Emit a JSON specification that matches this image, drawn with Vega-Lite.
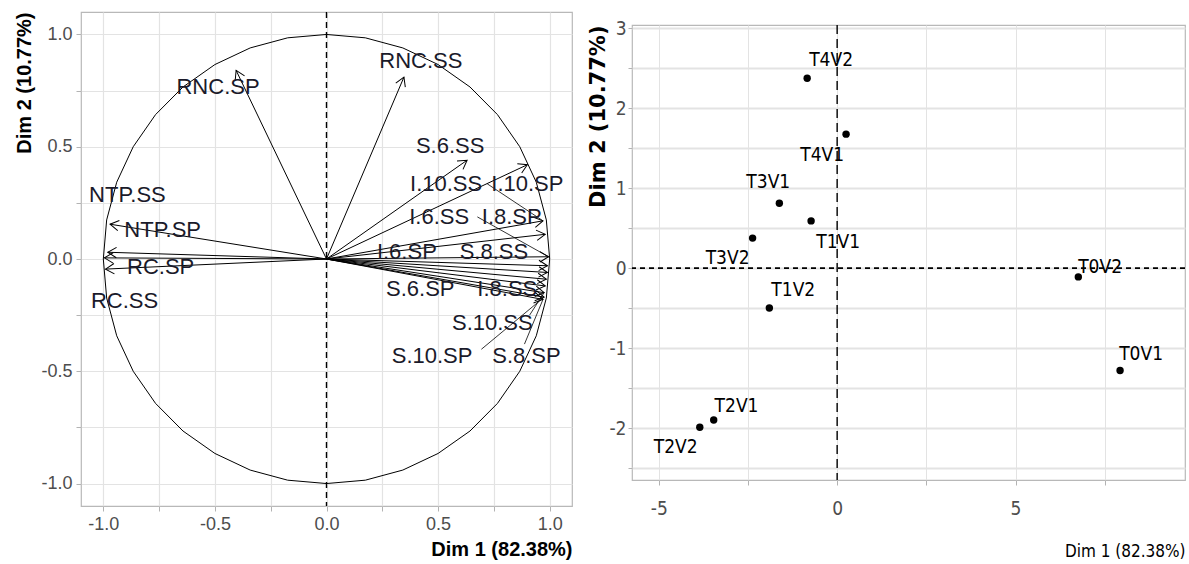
{
  "$schema": "https://vega.github.io/schema/vega-lite/v6.json",
  "background": "white",
  "padding": {"left": 14, "top": 6, "right": 0, "bottom": 0},
  "spacing": 14,
  "config": {
    "view": {"stroke": "#b8b8b8", "strokeWidth": 1.2},
    "axis": {"domain": false, "gridColor": "#e3e3e3", "gridWidth": 1.2, "tickColor": "#b3b3b3", "tickSize": 5, "labelColor": "#4d4d4d", "labelFont": "Liberation Sans", "titleFont": "Liberation Sans", "titleColor": "black", "labelOverlap": false}
  },
  "datasets": {
    "circle": [
      {"i": 0, "cx": 1, "cy": 0}, {"i": 1, "cx": 0.985, "cy": 0.174}, {"i": 2, "cx": 0.94, "cy": 0.342}, {"i": 3, "cx": 0.866, "cy": 0.5},
      {"i": 4, "cx": 0.766, "cy": 0.643}, {"i": 5, "cx": 0.643, "cy": 0.766}, {"i": 6, "cx": 0.5, "cy": 0.866}, {"i": 7, "cx": 0.342, "cy": 0.94},
      {"i": 8, "cx": 0.174, "cy": 0.985}, {"i": 9, "cx": 0, "cy": 1}, {"i": 10, "cx": -0.174, "cy": 0.985}, {"i": 11, "cx": -0.342, "cy": 0.94},
      {"i": 12, "cx": -0.5, "cy": 0.866}, {"i": 13, "cx": -0.643, "cy": 0.766}, {"i": 14, "cx": -0.766, "cy": 0.643}, {"i": 15, "cx": -0.866, "cy": 0.5},
      {"i": 16, "cx": -0.94, "cy": 0.342}, {"i": 17, "cx": -0.985, "cy": 0.174}, {"i": 18, "cx": -1, "cy": 0}, {"i": 19, "cx": -0.985, "cy": -0.174},
      {"i": 20, "cx": -0.94, "cy": -0.342}, {"i": 21, "cx": -0.866, "cy": -0.5}, {"i": 22, "cx": -0.766, "cy": -0.643}, {"i": 23, "cx": -0.643, "cy": -0.766},
      {"i": 24, "cx": -0.5, "cy": -0.866}, {"i": 25, "cx": -0.342, "cy": -0.94}, {"i": 26, "cx": -0.174, "cy": -0.985}, {"i": 27, "cx": 0, "cy": -1},
      {"i": 28, "cx": 0.174, "cy": -0.985}, {"i": 29, "cx": 0.342, "cy": -0.94}, {"i": 30, "cx": 0.5, "cy": -0.866}, {"i": 31, "cx": 0.643, "cy": -0.766},
      {"i": 32, "cx": 0.766, "cy": -0.643}, {"i": 33, "cx": 0.866, "cy": -0.5}, {"i": 34, "cx": 0.94, "cy": -0.342}, {"i": 35, "cx": 0.985, "cy": -0.174},
      {"i": 36, "cx": 1, "cy": 0}
    ],
    "vars": [
      {"name": "RNC.SP", "x": -0.405, "y": 0.84, "lx": -0.486, "ly": 0.768},
      {"name": "RNC.SS", "x": 0.347, "y": 0.81, "lx": 0.423, "ly": 0.88},
      {"name": "S.6.SS", "x": 0.63, "y": 0.44, "lx": 0.554, "ly": 0.505},
      {"name": "I.10.SS", "x": 0.97, "y": 0.17, "lx": 0.536, "ly": 0.335, "sx": 0.72, "sy": 0.335},
      {"name": "I.10.SP", "x": 0.9, "y": 0.42, "lx": 0.9, "ly": 0.335},
      {"name": "I.6.SS", "x": 0.995, "y": 0.01, "lx": 0.505, "ly": 0.1875, "sx": 0.676, "sy": 0.1875},
      {"name": "I.8.SP", "x": 0.98, "y": 0.11, "lx": 0.83, "ly": 0.1875},
      {"name": "I.6.SP", "x": 0.99, "y": -0.03, "lx": 0.36, "ly": 0.031},
      {"name": "S.8.SS", "x": 0.99, "y": -0.06, "lx": 0.75, "ly": 0.031},
      {"name": "S.6.SP", "x": 0.985, "y": -0.09, "lx": 0.42, "ly": -0.134},
      {"name": "I.8.SS", "x": 0.98, "y": -0.12, "lx": 0.81, "ly": -0.134},
      {"name": "S.10.SS", "x": 0.975, "y": -0.15, "lx": 0.743, "ly": -0.286, "sx": 0.91, "sy": -0.25},
      {"name": "S.10.SP", "x": 0.975, "y": -0.17, "lx": 0.473, "ly": -0.433, "sx": 0.694, "sy": -0.402},
      {"name": "S.8.SP", "x": 0.97, "y": -0.18, "lx": 0.896, "ly": -0.433, "sx": 0.887, "sy": -0.379},
      {"name": "NTP.SS", "x": -0.97, "y": 0.155, "lx": -0.892, "ly": 0.286},
      {"name": "NTP.SP", "x": -0.98, "y": 0.03, "lx": -0.734, "ly": 0.13},
      {"name": "RC.SP", "x": -0.995, "y": 0.005, "lx": -0.743, "ly": -0.036},
      {"name": "RC.SS", "x": -0.99, "y": -0.045, "lx": -0.905, "ly": -0.1875}
    ],
    "inds": [
      {"name": "T4V2", "x": -0.84, "y": 2.375, "lx": -0.17, "ly": 2.6},
      {"name": "T4V1", "x": 0.25, "y": 1.675, "lx": -0.42, "ly": 1.41},
      {"name": "T3V1", "x": -1.62, "y": 0.81, "lx": -1.93, "ly": 1.075},
      {"name": "T1V1", "x": -0.73, "y": 0.59, "lx": 0.03, "ly": 0.325},
      {"name": "T3V2", "x": -2.37, "y": 0.375, "lx": -3.07, "ly": 0.125},
      {"name": "T1V2", "x": -1.9, "y": -0.5, "lx": -1.23, "ly": -0.275},
      {"name": "T0V2", "x": 6.76, "y": -0.11, "lx": 7.37, "ly": 0.0125},
      {"name": "T0V1", "x": 7.93, "y": -1.28, "lx": 8.52, "ly": -1.075},
      {"name": "T2V1", "x": -3.46, "y": -1.9, "lx": -2.82, "ly": -1.725},
      {"name": "T2V2", "x": -3.85, "y": -1.99, "lx": -4.525, "ly": -2.24}
    ]
  },
  "hconcat": [
    {
      "width": 491,
      "height": 494,
      "layer": [
        {
          "data": {"name": "circle"},
          "mark": {"type": "line", "color": "black", "strokeWidth": 1},
          "encoding": {
            "x": {"field": "cx", "type": "quantitative", "scale": {"domain": [-1.1, 1.1], "nice": false, "zero": false},
              "axis": {"values": [-1, -0.75, -0.5, -0.25, 0, 0.25, 0.5, 0.75, 1], "labelExpr": "datum.value % 0.5 === 0 ? replace(format(datum.value, '.1f'), '\u2212', '-') : ''", "labelFontSize": 18, "labelPadding": 4, "title": "Dim 1 (82.38%)", "titleAnchor": "end", "titleFontSize": 20, "titleFontWeight": "bold", "titlePadding": 6}},
            "y": {"field": "cy", "type": "quantitative", "scale": {"domain": [-1.1, 1.1], "nice": false, "zero": false},
              "axis": {"values": [-1, -0.75, -0.5, -0.25, 0, 0.25, 0.5, 0.75, 1], "labelExpr": "datum.value % 0.5 === 0 ? replace(format(datum.value, '.1f'), '\u2212', '-') : ''", "labelFontSize": 18, "labelPadding": 4, "title": "Dim 2 (10.77%)", "titleAnchor": "end", "titleFontSize": 20, "titleFontWeight": "bold", "titlePadding": 6}},
            "order": {"field": "i", "type": "quantitative"}
          }
        },
        {
          "data": {"values": [{"v": 0}]},
          "mark": {"type": "rule", "color": "black", "strokeWidth": 1.4, "strokeDash": [6, 4]},
          "encoding": {"x": {"field": "v", "type": "quantitative"}}
        },
        {
          "data": {"name": "vars"},
          "mark": {"type": "rule", "color": "black", "strokeWidth": 1},
          "encoding": {"x": {"field": "x", "type": "quantitative"}, "y": {"field": "y", "type": "quantitative"}, "x2": {"datum": 0}, "y2": {"datum": 0}}
        },
        {
          "data": {"name": "vars"},
          "transform": [{"filter": "isValid(datum.sx)"}],
          "mark": {"type": "rule", "color": "black", "strokeWidth": 0.8},
          "encoding": {"x": {"field": "sx", "type": "quantitative"}, "y": {"field": "sy", "type": "quantitative"}, "x2": {"field": "x"}, "y2": {"field": "y"}}
        },
        {
          "data": {"name": "vars"},
          "transform": [{"calculate": "-atan2(datum.y, datum.x) * 180 / PI", "as": "ang"}],
          "mark": {"type": "point", "shape": "M -1 -0.6 L 0 0 L -1 0.6", "filled": false, "stroke": "black", "strokeWidth": 1, "size": 300, "opacity": 1},
          "encoding": {"x": {"field": "x", "type": "quantitative"}, "y": {"field": "y", "type": "quantitative"}, "angle": {"field": "ang", "type": "quantitative", "scale": null}}
        },
        {
          "data": {"name": "vars"},
          "mark": {"type": "text", "font": "Liberation Sans", "fontSize": 22, "color": "#1a1a2a", "align": "center", "baseline": "middle"},
          "encoding": {"x": {"field": "lx", "type": "quantitative"}, "y": {"field": "ly", "type": "quantitative"}, "text": {"field": "name", "type": "nominal"}}
        }
      ]
    },
    {
      "spacing": 0,
      "vconcat": [
        {
          "width": 553,
          "height": 1,
          "view": {"stroke": null},
          "data": {"values": [{"s": ""}]},
          "mark": {"type": "text"},
          "encoding": {"text": {"field": "s", "type": "nominal"}}
        },
        {
          "width": 553,
          "height": 455,
          "layer": [
            {
              "data": {"values": [{"v": 0}]},
              "mark": {"type": "rule", "color": "black", "strokeWidth": 1.8, "strokeDash": [5, 4]},
              "encoding": {
                "y": {"field": "v", "type": "quantitative", "scale": {"domain": [-2.65, 3.04], "nice": false, "zero": false},
                  "axis": {"values": [-2.5, -2, -1.5, -1, -0.5, 0, 0.5, 1, 1.5, 2, 2.5, 3], "labelExpr": "datum.value % 1 === 0 ? replace(format(datum.value, 'd'), '\u2212', '-') : ''", "labelFont": "DejaVu Sans Condensed, Liberation Sans", "labelFontSize": 19, "labelPadding": 2, "tickSize": 4, "gridWidth": 2, "title": "Dim 2 (10.77%)", "titleFont": "DejaVu Sans", "titleAnchor": "end", "titleFontSize": 21, "titleFontWeight": "bold", "titlePadding": 0}}
              }
            },
            {
              "data": {"values": [{"v": 0}]},
              "mark": {"type": "rule", "color": "black", "strokeWidth": 1.4, "strokeDash": [9, 5]},
              "encoding": {
                "x": {"field": "v", "type": "quantitative", "scale": {"domain": [-5.75, 9.75], "nice": false, "zero": false},
                  "axis": {"values": [-5, -2.5, 0, 2.5, 5, 7.5], "labelExpr": "datum.value % 5 === 0 ? replace(format(datum.value, 'd'), '\u2212', '-') : ''", "labelFont": "DejaVu Sans Condensed, Liberation Sans", "labelFontSize": 19, "labelPadding": 14, "gridWidth": 1, "title": "Dim 1 (82.38%)", "titleFont": "DejaVu Sans Condensed, Liberation Sans", "titleAnchor": "end", "titleFontSize": 17, "titleFontWeight": "normal", "titlePadding": 25}}
              }
            },
            {
              "data": {"name": "inds"},
              "mark": {"type": "point", "filled": true, "color": "black", "size": 55, "opacity": 1},
              "encoding": {"x": {"field": "x", "type": "quantitative"}, "y": {"field": "y", "type": "quantitative"}}
            },
            {
              "data": {"name": "inds"},
              "mark": {"type": "text", "font": "DejaVu Sans Condensed, Liberation Sans", "fontSize": 19, "color": "black", "align": "center", "baseline": "middle"},
              "encoding": {"x": {"field": "lx", "type": "quantitative"}, "y": {"field": "ly", "type": "quantitative"}, "text": {"field": "name", "type": "nominal"}}
            }
          ]
        }
      ]
    }
  ]
}
